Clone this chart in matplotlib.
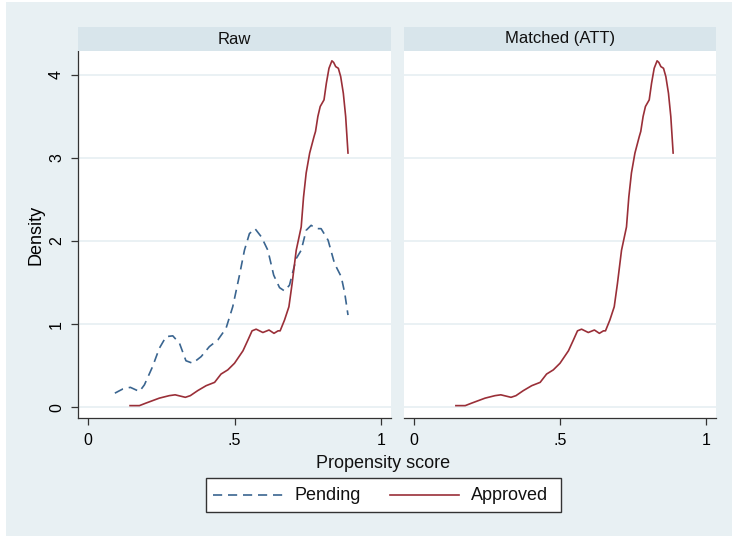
import matplotlib
matplotlib.use("Agg")
import matplotlib.pyplot as plt
from matplotlib.patches import Rectangle
from matplotlib.lines import Line2D

plt.rcParams['font.family'] = ['Liberation Sans', 'DejaVu Sans']

# ---- data ----
approved_x = [0.143, 0.175, 0.197, 0.243, 0.277, 0.297, 0.332, 0.349, 0.374, 0.403,
              0.432, 0.454, 0.477, 0.500, 0.529, 0.546, 0.560, 0.574, 0.597, 0.618,
              0.635, 0.649, 0.656, 0.671, 0.686, 0.697, 0.711, 0.728, 0.736, 0.745,
              0.757, 0.772, 0.777, 0.785, 0.793, 0.806, 0.814, 0.823, 0.833, 0.839,
              0.846, 0.855, 0.863, 0.872, 0.880, 0.888]
approved_y = [0.02, 0.02, 0.05, 0.11, 0.14, 0.15, 0.12, 0.14, 0.20, 0.26,
              0.30, 0.40, 0.45, 0.53, 0.68, 0.81, 0.92, 0.94, 0.90, 0.93,
              0.89, 0.92, 0.92, 1.05, 1.21, 1.49, 1.89, 2.17, 2.53, 2.82,
              3.06, 3.26, 3.32, 3.50, 3.62, 3.70, 3.90, 4.08, 4.17, 4.15,
              4.10, 4.08, 3.98, 3.78, 3.50, 3.06]

pending_x = [0.091, 0.118, 0.144, 0.175, 0.192, 0.220, 0.243, 0.266, 0.289, 0.312,
             0.334, 0.357, 0.386, 0.414, 0.443, 0.471, 0.494, 0.517, 0.534, 0.551,
             0.570, 0.592, 0.614, 0.634, 0.654, 0.671, 0.688, 0.711, 0.728, 0.745,
             0.762, 0.779, 0.796, 0.820, 0.842, 0.865, 0.877, 0.888]
pending_y = [0.17, 0.22, 0.24, 0.19, 0.27, 0.49, 0.71, 0.85, 0.86, 0.77,
             0.56, 0.53, 0.61, 0.73, 0.81, 0.95, 1.21, 1.59, 1.89, 2.09,
             2.15, 2.05, 1.89, 1.59, 1.44, 1.40, 1.47, 1.79, 1.89, 2.13,
             2.19, 2.15, 2.15, 2.01, 1.73, 1.57, 1.37, 1.11]

panel_titles = ["Raw", "Matched (ATT)"]
xticks = [0, 0.5, 1]
xticklabels = ["0", ".5", "1"]
yticks = [0, 1, 2, 3, 4]
yticklabels = ["0", "1", "2", "3", "4"]

# ---- style ----
W, H = 732, 536
BG = "#e8f0f3"
STRIP = "#d8e5eb"
GRID = "#e8f0f3"
RED = "#9a2f38"
BLUE = "#3a6590"
AX = "#333333"

fig = plt.figure(figsize=(W / 100, H / 100), dpi=100)
fig.patch.set_facecolor("white")
fig.patches.append(Rectangle((6 / W, 0), 1 - 6 / W, 1 - 2 / H, transform=fig.transFigure,
                             facecolor=BG, edgecolor="none", zorder=-10))

def fx(px):
    return px / W

def fy(py):
    return 1 - py / H

panels = [(78, 391), (404, 716)]
top_px, bot_px = 51, 418
strip_top = 27

axes = []
for i, (l, r) in enumerate(panels):
    ax = fig.add_axes([fx(l), fy(bot_px), fx(r) - fx(l), fy(top_px) - fy(bot_px)])
    ax.set_facecolor("white")
    ax.set_xlim(-0.035, 1.035)
    ax.set_ylim(-0.129, 4.288)
    for yv in yticks:
        ax.axhline(yv, color=GRID, lw=1.3, zorder=0)
    for s in ["top", "right"]:
        ax.spines[s].set_visible(False)
    ax.spines["bottom"].set_color(AX)
    ax.spines["bottom"].set_linewidth(0.9)
    ax.set_xticks(xticks)
    ax.set_xticklabels(xticklabels)
    ax.tick_params(axis="x", length=5, width=0.9, color=AX, pad=6, labelsize=11.5)
    if i == 0:
        ax.spines["left"].set_color(AX)
        ax.spines["left"].set_linewidth(0.9)
        ax.set_yticks(yticks)
        ax.set_yticklabels(yticklabels, rotation=90, va="center")
        ax.tick_params(axis="y", length=5, width=0.9, color=AX, pad=5, labelsize=11.5)
        ax.set_ylabel("Density", fontsize=13, labelpad=3)
    else:
        ax.spines["left"].set_visible(False)
        ax.set_yticks([])
    # strip
    fig.patches.append(Rectangle((fx(l), fy(top_px)), fx(r) - fx(l), fy(strip_top) - fy(top_px),
                                 transform=fig.transFigure, facecolor=STRIP, edgecolor="none"))
    fig.text((fx(l) + fx(r)) / 2, (fy(top_px) + fy(strip_top)) / 2, panel_titles[i],
             ha="center", va="center", fontsize=12, color="#111111")
    axes.append(ax)

axes[0].plot(pending_x, pending_y, color=BLUE, lw=1.2, dashes=(5.5, 3.5))
axes[0].plot(approved_x, approved_y, color=RED, lw=1.2)
axes[1].plot(approved_x, approved_y, color=RED, lw=1.2)

fig.text(fx(383), fy(463), "Propensity score", ha="center", va="center", fontsize=13, color="#111111")

# legend box
fig.patches.append(Rectangle((fx(206), fy(512)), fx(561) - fx(206), fy(478) - fy(512),
                             transform=fig.transFigure, facecolor="white", edgecolor="#333333", lw=1.0))
ly = fy(495)
fig.lines.append(Line2D([fx(213), fx(283)], [ly, ly], transform=fig.transFigure,
                        color=BLUE, lw=1.2, dashes=(5.5, 3.5)))
fig.text(fx(295), ly, "Pending", ha="left", va="center", fontsize=13, color="#111111")
fig.lines.append(Line2D([fx(390), fx(459)], [ly, ly], transform=fig.transFigure,
                        color=RED, lw=1.2))
fig.text(fx(471), ly, "Approved", ha="left", va="center", fontsize=13, color="#111111")

fig.savefig("out.png", dpi=100, facecolor=fig.get_facecolor())
